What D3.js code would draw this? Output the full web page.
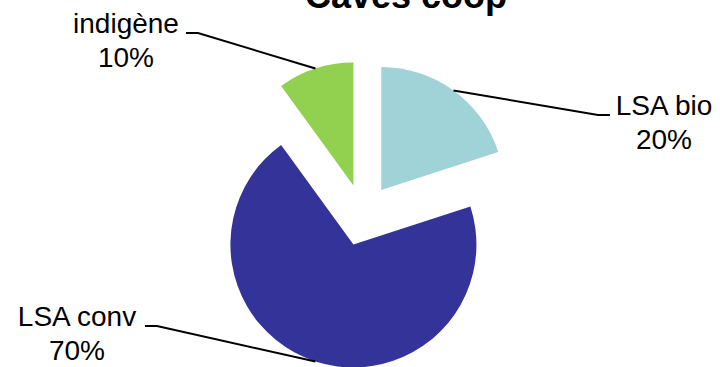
<!DOCTYPE html>
<html>
<head>
<meta charset="utf-8">
<script src="https://cdn.jsdelivr.net/npm/d3@7"></script>
<style>
  html, body { margin: 0; padding: 0; background: #fff; }
  text { font-family: "Liberation Sans", Arial, sans-serif; fill: #000; }
</style>
</head>
<body>
<div id="chart"></div>
<script>
const title = "Caves coop"
const categories = ["LSA bio", "LSA conv", "indigène"]
const values = [20, 70, 10]
const colors = ["#a0d3d8", "#333399", "#92d050"]

const width = 720
const height = 367
const cx = 363
const cy = 215
const radius = 123
const explode = 31

// label anchors (text centre x, first baseline y) and which side the leader enters from
const labelLayout = [
    { x: 664, y: 115, side: "left", elbowX: 610 },
    { x: 77, y: 326, side: "right", elbowX: 145 },
    { x: 126, y: 33, side: "right", elbowX: 186 },
]

const data = categories.map((name, i) => ({ name, value: values[i], color: colors[i] }))
const total = d3.sum(values)

const pie = d3.pie().sort(null).value((d) => d.value)
const arc = d3.arc().innerRadius(0).outerRadius(radius)
const arcs = pie(data)

const svg = d3.select("#chart").append("svg").attr("width", width).attr("height", height)

const slices = svg
    .selectAll(".slice")
    .data(arcs)
    .enter()
    .append("g")
    .attr("class", "slice")
    .attr("transform", (d) => {
        const mid = (d.startAngle + d.endAngle) / 2
        return `translate(${cx + Math.sin(mid) * explode},${cy - Math.cos(mid) * explode})`
    })

slices
    .append("path")
    .attr("d", arc)
    .attr("fill", (d) => d.data.color)

// leader lines from the middle of each outer arc to the label elbow
arcs.forEach((d, i) => {
    const mid = (d.startAngle + d.endAngle) / 2
    const ox = cx + Math.sin(mid) * explode
    const oy = cy - Math.cos(mid) * explode
    const p = [ox + Math.sin(mid) * radius, oy - Math.cos(mid) * radius]
    const lab = labelLayout[i]
    const ly = lab.y
    const bend = lab.side === "left" ? lab.elbowX - 12 : lab.elbowX + 12
    svg.append("polyline")
        .attr("points", `${p[0]},${p[1]} ${bend},${ly} ${lab.elbowX},${ly}`)
        .attr("fill", "none")
        .attr("stroke", "#000")
        .attr("stroke-width", 2)
})

const labels = svg
    .selectAll(".label")
    .data(arcs)
    .enter()
    .append("text")
    .attr("class", "label")
    .attr("text-anchor", "middle")
    .style("font-size", "28px")

labels
    .append("tspan")
    .attr("x", (d, i) => labelLayout[i].x)
    .attr("y", (d, i) => labelLayout[i].y)
    .text((d) => d.data.name)

labels
    .append("tspan")
    .attr("x", (d, i) => labelLayout[i].x)
    .attr("y", (d, i) => labelLayout[i].y + 34)
    .text((d) => `${Math.round((d.data.value / total) * 100)}%`)

svg.append("text")
    .attr("x", 406)
    .attr("y", 8)
    .attr("text-anchor", "middle")
    .style("font-size", "36px")
    .style("font-weight", "bold")
    .text(title)
</script>
</body>
</html>
